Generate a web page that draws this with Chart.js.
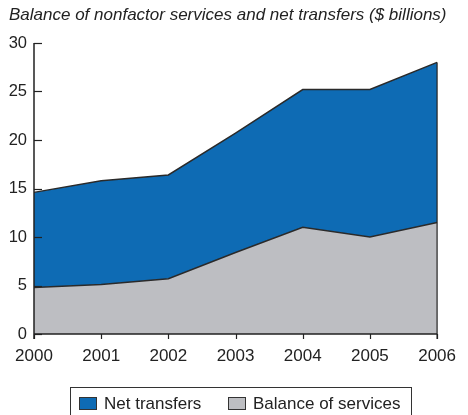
<!DOCTYPE html>
<html><head><meta charset="utf-8">
<script src="https://cdn.jsdelivr.net/npm/chart.js@4/dist/chart.umd.min.js"></script>
<style>
html,body{margin:0;padding:0;background:#fff;}
#wrap{position:relative;width:468px;height:415px;overflow:hidden;font-family:"Liberation Sans",Arial,sans-serif;color:#222;}
#title{position:absolute;left:9px;top:5px;font-size:17px;font-style:italic;white-space:nowrap;}
#legend{position:absolute;left:70px;top:387px;width:342px;height:40px;border:1px solid #333;box-sizing:border-box;font-size:17px;}
.item{position:absolute;top:6px;white-space:nowrap;}
.sw{display:inline-block;width:16px;height:11px;border:1px solid #333;vertical-align:-1px;margin-right:7px;}
</style></head><body>
<div id="wrap">
<canvas id="c" width="468" height="415"></canvas>
<div id="title">Balance of nonfactor services and net transfers ($ billions)</div>
<div id="legend"></div>
</div>
<script>
const years = ["2000","2001","2002","2003","2004","2005","2006"];
const balanceOfServices = [4.8, 5.1, 5.7, 8.4, 11.0, 10.0, 11.5];
const netTransfers = [9.8, 10.7, 10.7, 12.3, 14.2, 15.2, 16.5];
const yTicks = [0, 5, 10, 15, 20, 25, 30];
const seriesNames = ["Balance of services", "Net transfers"];
const colors = {services: "#bdbec2", transfers: "#0e6bb4", line: "#2a2a2a"};

const tickPlugin = {
  id: 'ticks',
  afterDatasetsDraw(chart) {
    const ctx = chart.ctx, x = chart.scales.x, y = chart.scales.y;
    ctx.save();
    ctx.strokeStyle = '#222'; ctx.lineWidth = 1.2;
    const last = years.length - 1;
    const xp = x.getPixelForValue(last);
    ctx.beginPath();
    ctx.moveTo(xp, y.getPixelForValue(balanceOfServices[last] + netTransfers[last]));
    ctx.lineTo(xp, y.bottom + 5);
    ctx.stroke();
    yTicks.forEach(v => {
      const yp = Math.round(y.getPixelForValue(v)) + 0.5;
      ctx.beginPath(); ctx.moveTo(x.left, yp); ctx.lineTo(x.left + 8, yp); ctx.stroke();
    });
    years.forEach((_, i) => {
      const p = Math.round(x.getPixelForValue(i)) + 0.5;
      ctx.beginPath(); ctx.moveTo(p, y.bottom); ctx.lineTo(p, y.bottom + 5); ctx.stroke();
    });
    ctx.lineWidth = 1.5;
    ctx.beginPath();
    ctx.moveTo(x.left, y.top); ctx.lineTo(x.left, y.bottom + 5);
    ctx.moveTo(x.left, y.bottom); ctx.lineTo(x.right, y.bottom);
    ctx.stroke();
    ctx.restore();
  }
};

new Chart(document.getElementById('c'), {
  type: 'line',
  data: {
    labels: years,
    datasets: [
      {label: seriesNames[0], data: balanceOfServices, fill: 'origin', backgroundColor: colors.services,
       borderColor: colors.line, borderWidth: 1.5, pointRadius: 0, tension: 0},
      {label: seriesNames[1], data: netTransfers, fill: '-1', backgroundColor: colors.transfers,
       borderColor: colors.line, borderWidth: 1.5, pointRadius: 0, tension: 0}
    ]
  },
  options: {
    responsive: false, animation: false,
    layout: {padding: {left: 0, right: 21, top: 43, bottom: 0}},
    plugins: {legend: {display: false}, tooltip: {enabled: false}, title: {display: false}},
    scales: {
      x: {
        offset: false,
        grid: {display: false, drawTicks: false},
        border: {display: false},
        ticks: {color: '#222', font: {family: '"Liberation Sans", Arial', size: 17}, padding: 12, maxRotation: 0, autoSkip: false},
        afterFit(s) { s.height = 81; }
      },
      y: {
        stacked: true, min: 0, max: 30,
        afterBuildTicks(s) { s.ticks = yTicks.map(v => ({value: v})); },
        grid: {display: false, drawTicks: false},
        border: {display: false},
        ticks: {color: '#222', font: {family: '"Liberation Sans", Arial', size: 16.5}, padding: 7},
        afterFit(s) { s.width = 34; }
      }
    }
  },
  plugins: [tickPlugin]
});

const lg = document.getElementById('legend');
[[seriesNames[1], colors.transfers, 8], [seriesNames[0], colors.services, 157]].forEach(([n, c, l]) => {
  const d = document.createElement('div'); d.className = 'item'; d.style.left = l + 'px';
  d.innerHTML = '<span class="sw" style="background:' + c + '"></span>' + n;
  lg.appendChild(d);
});
</script>
</body></html>
